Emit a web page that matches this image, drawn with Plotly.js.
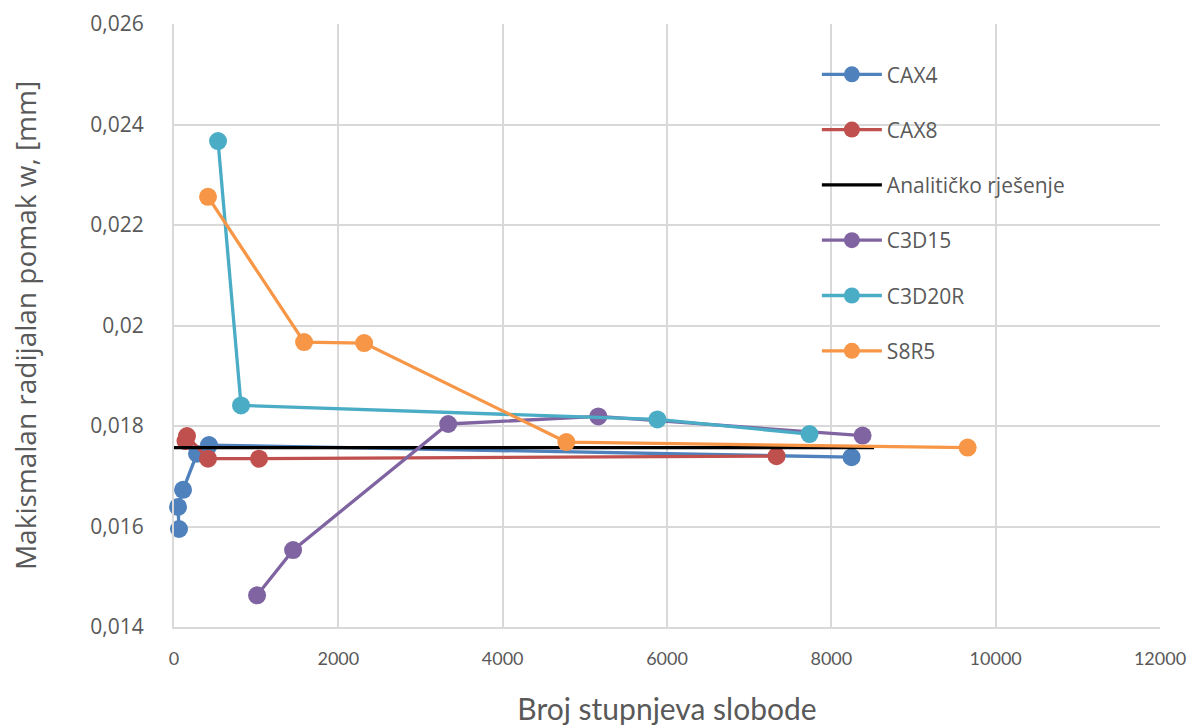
<!DOCTYPE html>
<html>
<head>
<meta charset="utf-8">
<script src="https://cdn.plot.ly/plotly-3.0.1.min.js"></script>
<style>html,body{margin:0;padding:0;background:#fff}#chart{width:1203px;height:726px}</style>
</head>
<body>
<div id="chart"></div>
<script>
// Data
const cax4X = [61, 49, 110, 280, 426, 8246];
const cax4Y = [0.01595, 0.01639, 0.01673, 0.01745, 0.01762, 0.01738];

const cax8X = [140, 158, 414, 1035, 7333];
const cax8Y = [0.01770, 0.01780, 0.01735, 0.01735, 0.01740];

const analitX = [0, 8520];
const analitY = [0.01757, 0.01757];

const c3d15X = [1011, 1449, 3337, 5164, 8380];
const c3d15Y = [0.01463, 0.01553, 0.01804, 0.01819, 0.01781];

const c3d20rX = [536, 816, 5883, 7734];
const c3d20rY = [0.02367, 0.01841, 0.01813, 0.01784];

const s8r5X = [414, 1583, 2314, 4775, 9659];
const s8r5Y = [0.02256, 0.01967, 0.01965, 0.01768, 0.01757];

const names = ["CAX4", "CAX8", "Analitičko rješenje", "C3D15", "C3D20R", "S8R5"];
const colors = ["#4F81BD", "#C0504D", "#000000", "#8064A2", "#4BACC6", "#F79646"];

const yTickVals = [0.014, 0.016, 0.018, 0.020, 0.022, 0.024, 0.026];
const yTickText = ["0,014", "0,016", "0,018", "0,02", "0,022", "0,024", "0,026"];
const xTickVals = [0, 2000, 4000, 6000, 8000, 10000, 12000];
const xTickText = ["0", "2000", "4000", "6000", "8000", "10000", "12000"];

const xs = [cax4X, cax8X, analitX, c3d15X, c3d20rX, s8r5X];
const ys = [cax4Y, cax8Y, analitY, c3d15Y, c3d20rY, s8r5Y];

const traces = names.map((n, i) => ({
  x: xs[i], y: ys[i], name: n,
  legendgroup: "g" + i,
  type: "scatter",
  mode: i === 2 ? "lines" : "lines+markers",
  line: {color: colors[i], width: 3.3},
  marker: {color: colors[i], size: 18},
  cliponaxis: false
}));

const gray = "#595959";
const layout = {
  width: 1203, height: 726,
  margin: {l: 174, r: 43, t: 24, b: 99},
  paper_bgcolor: "#fff", plot_bgcolor: "#fff",
  font: {family: "'Open Sans', sans-serif", color: gray, size: 20},
  showlegend: true,
  legend: {
    x: 0.652, y: 0.95, xanchor: "left", yanchor: "top",
    traceorder: "grouped", tracegroupgap: 25,
    font: {size: 21, color: gray, family: "'Open Sans', sans-serif"},
    bgcolor: "rgba(0,0,0,0)", itemwidth: 60
  },
  xaxis: {
    range: [0, 12000], tickvals: xTickVals, ticktext: xTickText,
    showgrid: true, gridcolor: "#d9d9d9", gridwidth: 2,
    showline: true, linecolor: "#d9d9d9", linewidth: 2,
    zeroline: false, ticks: "", ticklabelstandoff: 14,
    tickfont: {family: "Lato, sans-serif", size: 18, color: gray},
    title: {text: "Broj stupnjeva slobode", standoff: 31,
      font: {family: "Lato, sans-serif", size: 30, color: gray}}
  },
  yaxis: {
    range: [0.014, 0.026], tickvals: yTickVals, ticktext: yTickText,
    showgrid: true, gridcolor: "#d9d9d9", gridwidth: 2,
    showline: true, linecolor: "#d9d9d9", linewidth: 2,
    zeroline: false, ticks: "", ticklabelstandoff: 24,
    tickfont: {family: "'Open Sans', sans-serif", size: 21, color: gray},
    title: {text: "Makismalan radijalan pomak w, [mm]", standoff: 46,
      font: {family: "'Open Sans', sans-serif", size: 28, color: gray}}
  }
};

Plotly.newPlot("chart", traces, layout, {staticPlot: true, displayModeBar: false});
</script>
</body>
</html>
